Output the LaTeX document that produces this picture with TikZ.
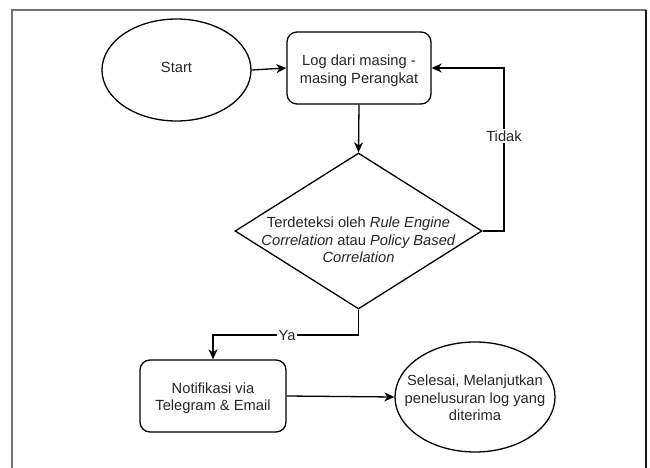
\documentclass[tikz,border=0pt]{standalone}
\usepackage{fontspec}
\setmainfont{Liberation Sans}
\usetikzlibrary{shapes.geometric,arrows.meta}

\tikzset{
  flow/.style={line width=1.3pt, draw=black},
  conn/.style={flow, -{Stealth[length=10pt,width=9pt,inset=3pt]}},
  txt/.style={font=\fontsize{14.7}{17.6}\selectfont, text=black!85, align=center, inner sep=0pt},
  procbox/.style={flow, rounded corners=10pt, minimum width=146pt, minimum height=72pt, inner sep=0pt, fill=white},
  terminal/.style={flow, ellipse, inner sep=0pt, fill=white},
  decision/.style={flow, diamond, inner sep=0pt, minimum width=247pt, minimum height=156pt, fill=white},
  edgelabel/.style={txt, fill=white, inner sep=1.5pt}
}

\begin{document}
\begin{tikzpicture}[x=1pt, y=-1pt]
  \useasboundingbox (0,0) rectangle (650,468);

  % outer frame
  \draw[line width=1.5pt, draw=black!55] (12,468) -- (12,10) -- (646,10);
  \draw[line width=1.5pt, draw=black!90] (646,10) -- (646,468);

  % shapes
  \node[terminal, minimum width=149pt, minimum height=102pt] (start) at (176.5,70) {};
  \node[txt] (starttext) at (176.5,67) {Start};

  \node[procbox, minimum width=144pt] (log) at (359,68) {};
  \node[txt] (logtext) at (359,71) {Log dari masing -\\masing Perangkat};

  \node[decision] (dec) at (358.5,231) {};
  \node[txt] (dectext) at (358.5,240) {Terdeteksi oleh \textit{Rule Engine}\\\textit{Correlation} atau \textit{Policy Based}\\\textit{Correlation}};

  \node[procbox] (notif) at (213,396) {};
  \node[txt] (notiftext) at (213,398) {Notifikasi via\\Telegram \& Email};

  \node[terminal, minimum width=160pt, minimum height=110pt] (finish) at (475,397) {};
  \node[txt] (finishtext) at (475,398) {Selesai, Melanjutkan\\penelusuran log yang\\diterima};

  % loop-back and branch points
  \coordinate (tidakA) at (504,231);
  \coordinate (tidakB) at (504,68);
  \coordinate (yaA) at (358.5,335);
  \coordinate (yaB) at (213,335);

  % connectors
  \draw[conn] (start.east) -- (log.west);
  \draw[conn] (log.south) -- (dec.north);
  \draw[conn] (dec.east) -- (tidakA) -- (tidakB) -- (log.east);
  \draw[conn] (dec.south) -- (yaA) -- (yaB) -- (notif.north);
  \draw[conn] (notif.east) -- (finish.west);

  % branch labels
  \node[edgelabel] (tidak) at (504,136) {Tidak};
  \node[edgelabel] (ya) at (287,336) {Ya};
\end{tikzpicture}
\end{document}
